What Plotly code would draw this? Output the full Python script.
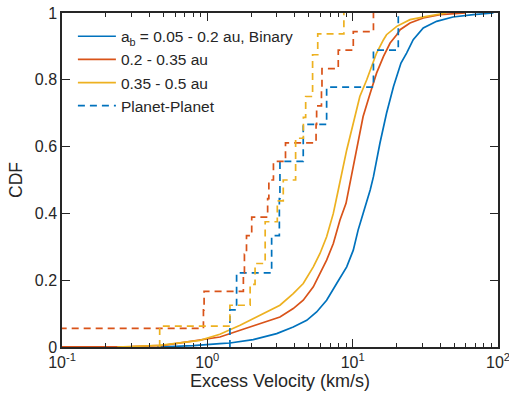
import numpy as np
import plotly.graph_objects as go

# Smooth empirical CDFs of the binary-perturbation runs (velocity in km/s, cumulative fraction)
binary_lo_v = [0.45, 0.8, 1.22, 1.43, 2.07, 3.0, 3.9, 4.83, 5.65, 6.62, 7.76, 9.1, 10.1, 10.9,
               11.8, 13.2, 13.9, 15.4, 17.1, 19.1, 21.5, 23.5, 26.1, 30.6, 37.8, 49.0, 67.6, 93.0]
binary_lo_cdf = [0.0, 0.004, 0.01, 0.012, 0.022, 0.04, 0.06, 0.08, 0.105, 0.14, 0.19, 0.24, 0.29, 0.35,
                 0.40, 0.47, 0.51, 0.61, 0.70, 0.78, 0.85, 0.88, 0.92, 0.955, 0.975, 0.988, 0.995, 1.0]

binary_mid_v = [0.05, 0.3, 0.5, 0.89, 1.22, 1.68, 2.3, 3.16, 3.9, 4.57, 5.36, 5.96, 6.62, 7.36,
                8.18, 9.0, 9.6, 10.7, 11.8, 13.2, 14.6, 16.3, 18.1, 20.1, 21.2, 24.8, 30.6, 39.9, 60.0]
binary_mid_cdf = [0.0, 0.001, 0.005, 0.02, 0.03, 0.05, 0.07, 0.09, 0.115, 0.14, 0.18, 0.22, 0.26, 0.31,
                  0.38, 0.43, 0.49, 0.60, 0.69, 0.76, 0.82, 0.87, 0.91, 0.935, 0.95, 0.97, 0.985, 0.995, 1.0]

binary_hi_v = [0.24, 0.47, 0.89, 1.22, 1.68, 2.3, 3.16, 3.9, 4.57, 5.36, 5.96, 6.62, 7.36, 7.96,
               8.4, 9.1, 10.1, 11.2, 12.5, 13.5, 14.6, 16.3, 17.1, 20.1, 24.8, 32.3, 44.0]
binary_hi_cdf = [0.0, 0.005, 0.02, 0.038, 0.065, 0.095, 0.125, 0.16, 0.19, 0.24, 0.28, 0.33, 0.40, 0.47,
                 0.52, 0.59, 0.67, 0.75, 0.80, 0.84, 0.88, 0.92, 0.935, 0.96, 0.98, 0.99, 1.0]

# Individual excess velocities (km/s) of the planet-planet scattering samples
pp_lo = [1.43, 1.59, 2.77, 3.13, 3.16, 4.57, 6.62, 13.9, 20.6]
pp_mid = [0.05, 0.94, 0.95, 1.77, 1.80, 1.86, 2.02, 2.60, 2.65, 2.85, 3.45,
          5.6, 5.65, 6.1, 6.15, 7.96, 10.1, 13.9]
pp_hi = [0.47, 1.43, 1.97, 2.13, 2.5, 2.5, 3.03, 3.33, 4.05, 4.05, 4.58, 4.75,
         5.3, 5.3, 5.75, 8.7]

legend_names = ["a<sub>b</sub> = 0.05 - 0.2 au, Binary", "0.2 - 0.35 au", "0.35 - 0.5 au", "Planet-Planet"]
colors = ["#0072BD", "#D95319", "#EDB120"]

x_tickvals = [0.1, 1, 10, 100]
x_ticktext = ["10<sup>-1</sup>", "10<sup>0</sup>", "10<sup>1</sup>", "10<sup>2</sup>"]
x_minor = [m * d for d in (0.1, 1, 10) for m in range(2, 10)]
y_tickvals = [0, 0.2, 0.4, 0.6, 0.8, 1]


def ecdf_steps(values):
    v = np.sort(np.asarray(values, dtype=float))
    n = len(v)
    xs = np.concatenate([[v[0]], v])
    ys = np.concatenate([[0.0], np.arange(1, n + 1) / n])
    return xs, ys


fig = go.Figure()

for v, c, col, name in zip([binary_lo_v, binary_mid_v, binary_hi_v],
                           [binary_lo_cdf, binary_mid_cdf, binary_hi_cdf],
                           colors, legend_names[:3]):
    fig.add_trace(go.Scatter(x=v, y=c, mode="lines", name=name,
                             line=dict(color=col, width=1.7)))

for i, (vals, col) in enumerate(zip([pp_lo, pp_mid, pp_hi], colors)):
    xs, ys = ecdf_steps(vals)
    fig.add_trace(go.Scatter(x=xs, y=ys, mode="lines", line_shape="hv",
                             name=legend_names[3], showlegend=(i == 0),
                             line=dict(color=col, width=1.7, dash="7px,5px")))

axis_col = "#262626"
font_fam = "Liberation Sans, Arial, sans-serif"

fig.update_layout(
    width=509, height=401,
    margin=dict(l=62, r=11, t=13, b=54),
    paper_bgcolor="white", plot_bgcolor="white",
    font=dict(family=font_fam, size=16, color=axis_col),
    showlegend=True,
    legend=dict(x=0.025, y=0.98, xanchor="left", yanchor="top",
                bgcolor="rgba(255,255,255,0)", borderwidth=0,
                font=dict(size=15.5, color=axis_col),
                tracegroupgap=0, itemwidth=38),
)

fig.update_xaxes(
    type="log", range=[-1, 2], automargin=False, ticklabeloverflow="allow",
    showline=True, linecolor=axis_col, linewidth=1.5, mirror="allticks",
    ticks="inside", ticklen=8, tickwidth=1.3, tickcolor=axis_col,
    tickvals=x_tickvals, ticktext=x_ticktext,
    minor=dict(ticks="inside", ticklen=4, tickwidth=1.3, tickcolor=axis_col, tickvals=x_minor),
    showgrid=False, zeroline=False,
    title=dict(text="Excess Velocity (km/s)", font=dict(size=18), standoff=4),
    tickfont=dict(size=16),
)

fig.update_yaxes(
    range=[0, 1], automargin=False, ticklabeloverflow="allow",
    showline=True, linecolor=axis_col, linewidth=1.5, mirror="allticks",
    ticks="inside", ticklen=8, tickwidth=1.3, tickcolor=axis_col,
    tickvals=y_tickvals,
    showgrid=False, zeroline=False,
    title=dict(text="CDF", font=dict(size=17.5), standoff=8),
    tickfont=dict(size=16),
)

fig.write_html("out.html")
